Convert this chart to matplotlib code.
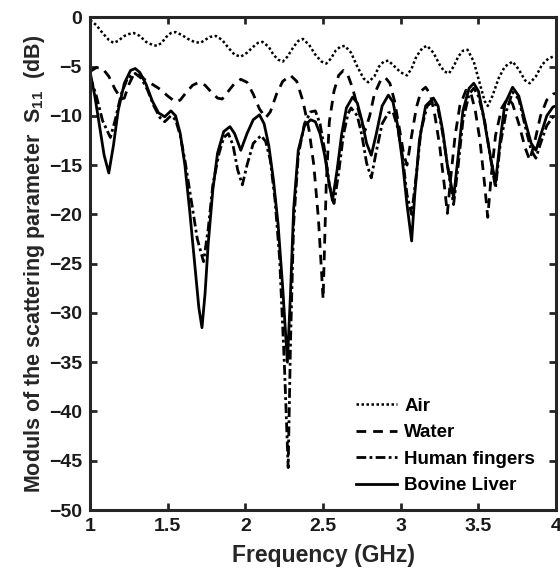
import matplotlib
matplotlib.use("Agg")
import matplotlib.pyplot as plt

plt.rcParams["font.family"] = ["Liberation Sans", "DejaVu Sans"]
plt.rcParams["font.weight"] = "bold"
plt.rcParams["mathtext.fontset"] = "custom"
plt.rcParams["mathtext.bf"] = "Liberation Sans:bold"
plt.rcParams["mathtext.rm"] = "Liberation Sans:bold"

# Frequency (GHz) / S11 (dB) samples for each medium
air_f = [1.00, 1.04, 1.08, 1.12, 1.15, 1.18, 1.22, 1.25, 1.28, 1.32, 1.36, 1.40, 1.43, 1.46,
         1.49, 1.52, 1.55, 1.59, 1.63, 1.67, 1.71, 1.74, 1.77, 1.81, 1.85, 1.89, 1.93, 1.97,
         2.01, 2.05, 2.08, 2.11, 2.15, 2.18, 2.21, 2.24, 2.27, 2.31, 2.34, 2.37, 2.41, 2.45,
         2.49, 2.52, 2.55, 2.58, 2.61, 2.64, 2.68, 2.72, 2.76, 2.79, 2.83, 2.86, 2.89, 2.92,
         2.96, 3.00, 3.04, 3.07, 3.10, 3.14, 3.17, 3.21, 3.25, 3.28, 3.31, 3.34, 3.37, 3.40,
         3.43, 3.47, 3.51, 3.54, 3.56, 3.59, 3.63, 3.67, 3.72, 3.76, 3.80, 3.83, 3.87, 3.91,
         3.95, 3.98, 4.00]
air_db = [-0.3, -0.8, -1.6, -2.3, -2.6, -2.4, -1.9, -1.7, -1.6, -1.9, -2.5, -2.8, -2.9, -2.6,
          -2.0, -1.6, -1.5, -1.8, -2.2, -2.5, -2.6, -2.3, -2.0, -1.9, -2.3, -3.1, -3.8, -4.0,
          -3.6, -3.0, -2.6, -2.5, -3.0, -3.8, -4.3, -4.5, -4.0, -3.0, -2.4, -2.2, -2.8, -3.8,
          -4.5, -4.7, -4.2, -3.4, -3.0, -2.9, -3.6, -5.0, -6.2, -6.6, -6.0, -5.0, -4.5, -4.4,
          -5.0, -5.6, -5.9, -5.2, -4.0, -3.1, -2.9, -3.6, -4.8, -5.5, -5.7, -5.0, -4.0, -3.4,
          -3.3, -4.5, -6.8, -8.5, -9.0, -8.0, -6.2, -5.0, -4.5, -5.3, -6.4, -6.7, -6.0, -4.8,
          -4.2, -4.0, -4.0]

water_f = [1.00, 1.04, 1.08, 1.12, 1.16, 1.20, 1.22, 1.25, 1.28, 1.31, 1.35, 1.40, 1.45, 1.50,
           1.55, 1.58, 1.62, 1.66, 1.70, 1.74, 1.78, 1.82, 1.85, 1.89, 1.93, 1.97, 2.01, 2.05,
           2.09, 2.13, 2.16, 2.20, 2.24, 2.29, 2.33, 2.37, 2.41, 2.44, 2.47, 2.50, 2.52, 2.54,
           2.57, 2.60, 2.63, 2.66, 2.69, 2.72, 2.75, 2.77, 2.80, 2.83, 2.87, 2.90, 2.93, 2.96,
           2.99, 3.02, 3.04, 3.07, 3.10, 3.13, 3.16, 3.19, 3.22, 3.25, 3.28, 3.30, 3.32, 3.35,
           3.38, 3.42, 3.45, 3.48, 3.51, 3.54, 3.56, 3.58, 3.61, 3.65, 3.69, 3.72, 3.76, 3.80,
           3.83, 3.86, 3.90, 3.94, 3.98, 4.00]
water_db = [-5.5, -5.1, -5.2, -6.0, -7.3, -8.3, -8.2, -6.8, -5.8, -5.7, -6.3, -6.8, -7.3, -8.0,
            -8.6, -8.4, -7.6, -6.9, -6.6, -6.9, -7.6, -8.2, -8.3, -7.5, -6.7, -6.3, -6.6, -7.8,
            -9.3, -10.2, -9.6, -7.8, -6.5, -5.9, -6.5, -8.5, -11.5, -15.0, -20.5, -28.6, -17.0, -10.6,
            -7.5, -5.9, -5.4, -5.9, -7.2, -9.0, -10.8, -11.5, -10.0, -7.8, -6.4, -6.1, -6.7, -8.5,
            -11.2, -14.0, -15.0, -12.0, -9.2, -7.5, -7.1, -7.8, -10.0, -13.0, -17.0, -19.9, -16.5, -12.0,
            -9.0, -7.4, -7.6, -9.5, -12.5, -17.0, -20.3, -16.5, -12.0, -9.2, -8.2, -8.8, -10.8, -13.2,
            -14.5, -12.8, -10.0, -8.4, -7.8, -7.7]

fingers_f = [1.00, 1.04, 1.08, 1.13, 1.16, 1.20, 1.24, 1.29, 1.33, 1.37, 1.41, 1.45, 1.48, 1.52,
             1.55, 1.58, 1.61, 1.65, 1.69, 1.73, 1.76, 1.79, 1.83, 1.86, 1.89, 1.92, 1.95, 1.98,
             2.01, 2.05, 2.10, 2.13, 2.16, 2.19, 2.22, 2.25, 2.275, 2.29, 2.31, 2.34, 2.38, 2.42,
             2.45, 2.48, 2.51, 2.54, 2.57, 2.60, 2.63, 2.66, 2.68, 2.72, 2.75, 2.78, 2.81, 2.84,
             2.88, 2.92, 2.95, 2.98, 3.01, 3.04, 3.07, 3.10, 3.13, 3.17, 3.21, 3.24, 3.27, 3.31,
             3.34, 3.37, 3.40, 3.44, 3.47, 3.50, 3.54, 3.58, 3.61, 3.64, 3.68, 3.72, 3.76, 3.80,
             3.84, 3.87, 3.90, 3.94, 3.98, 4.00]
fingers_db = [-6.0, -8.0, -10.5, -12.2, -10.5, -7.8, -6.2, -5.7, -6.2, -7.4, -9.0, -10.2, -10.6, -10.0,
              -10.4, -12.0, -14.5, -18.5, -22.5, -24.8, -21.5, -17.0, -13.8, -12.2, -11.8, -13.0, -15.5, -17.0,
              -15.0, -12.8, -12.0, -12.6, -14.5, -18.5, -24.5, -35.0, -45.7, -33.0, -21.0, -14.0, -10.8, -9.6,
              -9.5, -10.8, -13.5, -17.0, -18.9, -15.8, -12.0, -9.8, -9.2, -10.0, -12.0, -14.8, -16.3, -13.8,
              -10.8, -9.7, -9.6, -11.2, -14.0, -18.0, -20.0, -16.0, -11.5, -9.0, -8.5, -9.3, -11.8, -16.0,
              -19.0, -15.0, -10.5, -7.8, -7.2, -8.0, -10.5, -14.5, -17.3, -13.0, -9.5, -7.6, -8.3, -11.0,
              -13.5, -14.3, -12.8, -11.0, -10.1, -10.0]

liver_f = [1.00, 1.03, 1.06, 1.09, 1.12, 1.15, 1.18, 1.22, 1.26, 1.29, 1.32, 1.36, 1.40, 1.44,
           1.48, 1.52, 1.55, 1.58, 1.61, 1.64, 1.67, 1.70, 1.72, 1.74, 1.76, 1.79, 1.82, 1.86,
           1.90, 1.93, 1.97, 2.01, 2.05, 2.09, 2.12, 2.15, 2.18, 2.21, 2.24, 2.27, 2.29, 2.31,
           2.34, 2.38, 2.42, 2.45, 2.48, 2.51, 2.54, 2.56, 2.59, 2.62, 2.65, 2.69, 2.72, 2.75,
           2.78, 2.81, 2.84, 2.88, 2.92, 2.95, 2.98, 3.01, 3.04, 3.07, 3.09, 3.12, 3.16, 3.21,
           3.24, 3.27, 3.30, 3.34, 3.37, 3.40, 3.44, 3.47, 3.50, 3.53, 3.57, 3.61, 3.64, 3.67,
           3.72, 3.76, 3.80, 3.84, 3.87, 3.90, 3.94, 3.98, 4.00]
liver_db = [-5.6, -8.0, -11.0, -14.0, -15.8, -13.0, -9.5, -6.7, -5.4, -5.2, -5.6, -6.8, -8.5, -9.7,
            -10.1, -9.5, -10.0, -11.8, -15.0, -19.5, -24.5, -29.5, -31.5, -28.0, -23.0, -17.5, -13.8, -11.6,
            -11.1, -11.8, -13.5, -11.8, -10.4, -9.9, -10.8, -13.0, -16.5, -21.0, -27.5, -35.0, -28.0, -19.5,
            -13.5, -11.0, -10.4, -10.6, -11.8, -14.0, -17.0, -18.6, -15.5, -11.8, -9.2, -8.1, -8.7, -10.5,
            -12.8, -14.0, -12.0, -9.0, -7.9, -8.6, -11.0, -14.5, -19.0, -22.7, -18.0, -12.5, -9.0, -8.2,
            -9.0, -11.5, -15.0, -18.3, -14.0, -9.5, -7.2, -6.7, -7.5, -9.8, -13.5, -16.8, -12.5, -8.8,
            -7.1, -8.0, -10.5, -12.8, -13.5, -12.0, -10.0, -9.1, -9.0]

labels = ["Air", "Water", "Human fingers", "Bovine Liver"]
x_ticks = [1, 1.5, 2, 2.5, 3, 3.5, 4]
x_tick_labels = ["1", "1.5", "2", "2.5", "3", "3.5", "4"]
y_ticks = [0, -5, -10, -15, -20, -25, -30, -35, -40, -45, -50]

fig = plt.figure(figsize=(5.6, 5.75), dpi=100)
ax = fig.add_axes([0.161, 0.113, 0.832, 0.857])

ax.plot(air_f, air_db, color="black", linestyle=(0, (1, 1)), linewidth=1.8, label=labels[0])
ax.plot(water_f, water_db, color="black", linestyle=(0, (3.5, 2.5)), linewidth=2.0, label=labels[1])
ax.plot(fingers_f, fingers_db, color="black", linestyle=(0, (3.5, 1.2, 1, 1.2)), linewidth=2.0,
        label=labels[2])
ax.plot(liver_f, liver_db, color="black", linestyle="-", linewidth=2.0, label=labels[3])

ax.set_xlim(1, 4)
ax.set_ylim(-50, 0)
ax.set_xticks(x_ticks)
ax.set_xticklabels(x_tick_labels)
ax.set_yticks(y_ticks)

for s in ax.spines.values():
    s.set_linewidth(2.2)
    s.set_color("#262626")
ax.tick_params(direction="in", length=5, width=2, top=True, right=True,
               labelsize=14, colors="#262626", labelcolor="#1a1a1a", pad=6)
for lab in ax.get_xticklabels() + ax.get_yticklabels():
    lab.set_fontweight("bold")

ax.set_xlabel("Frequency (GHz)", fontsize=16.5, fontweight="bold", color="#262626", labelpad=6)
ax.set_ylabel(r"Moduls of the scattering parameter  $\mathbf{S_{11}}$  (dB)", fontsize=15.5,
              fontweight="bold", color="#262626", labelpad=1)

leg = ax.legend(loc="lower left", bbox_to_anchor=(0.555, 0.017), frameon=False,
                handlelength=2.2, handletextpad=0.35, labelspacing=0.5, borderaxespad=0,
                prop={"size": 13.5, "weight": "bold"})

fig.savefig("out.png", dpi=100)
